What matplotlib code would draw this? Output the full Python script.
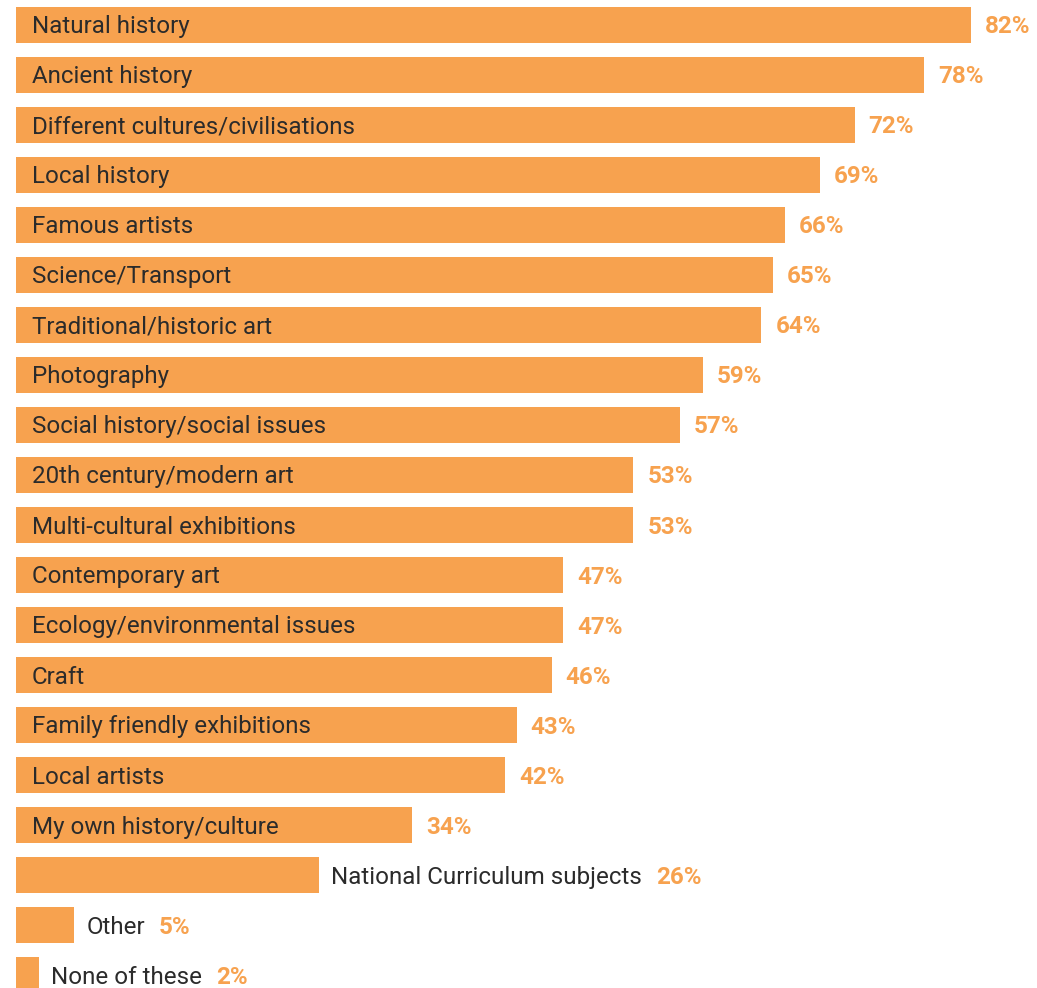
import matplotlib
matplotlib.use('Agg')
import matplotlib.pyplot as plt

# survey answers, percentage of respondents
topics = ['Natural history', 'Ancient history', 'Different cultures/civilisations',
          'Local history', 'Famous artists', 'Science/Transport',
          'Traditional/historic art', 'Photography', 'Social history/social issues',
          '20th century/modern art', 'Multi-cultural exhibitions', 'Contemporary art',
          'Ecology/environmental issues', 'Craft', 'Family friendly exhibitions',
          'Local artists', 'My own history/culture', 'National Curriculum subjects',
          'Other', 'None of these']
percent = [82, 78, 72, 69, 66, 65, 64, 59, 57, 53, 53, 47, 47, 46, 43, 42, 34, 26, 5, 2]

orange = '#F7A24F'
text_col = '#2b2b2b'
plt.rcParams['font.family'] = ['Roboto', 'DejaVu Sans']

fig = plt.figure(figsize=(10.37, 9.88), dpi=100)
ax = fig.add_axes([0, 0, 1, 1])

y = list(range(len(topics)))
ax.barh(y, percent, height=0.72, color=orange, left=0)

ax.set_xlim(-1.374, 87.67)
ax.set_ylim(19.26, -0.5)
ax.axis('off')

renderer = fig.canvas.get_renderer()
px = 1037 / (87.67 + 1.374)  # pixels per percent
fs = 17.4
base = 0.17  # baseline shift so caps sit in the middle of the bar

for i, (name, val) in enumerate(zip(topics, percent)):
    # try the topic label inside the bar first
    t = ax.text(16 / px, i + base, name, va='baseline', ha='left', fontsize=fs, color=text_col)
    w = t.get_window_extent(renderer).width
    if w + 32 <= val * px:
        vx = val + 14 / px
    else:
        t.set_x(val + 12 / px)
        vx = val + (12 + w + 14) / px
    ax.text(vx, i + base, f'{val}%', va='baseline', ha='left', fontsize=fs,
            fontweight='bold', color=orange)

fig.savefig('out.png', dpi=100)
